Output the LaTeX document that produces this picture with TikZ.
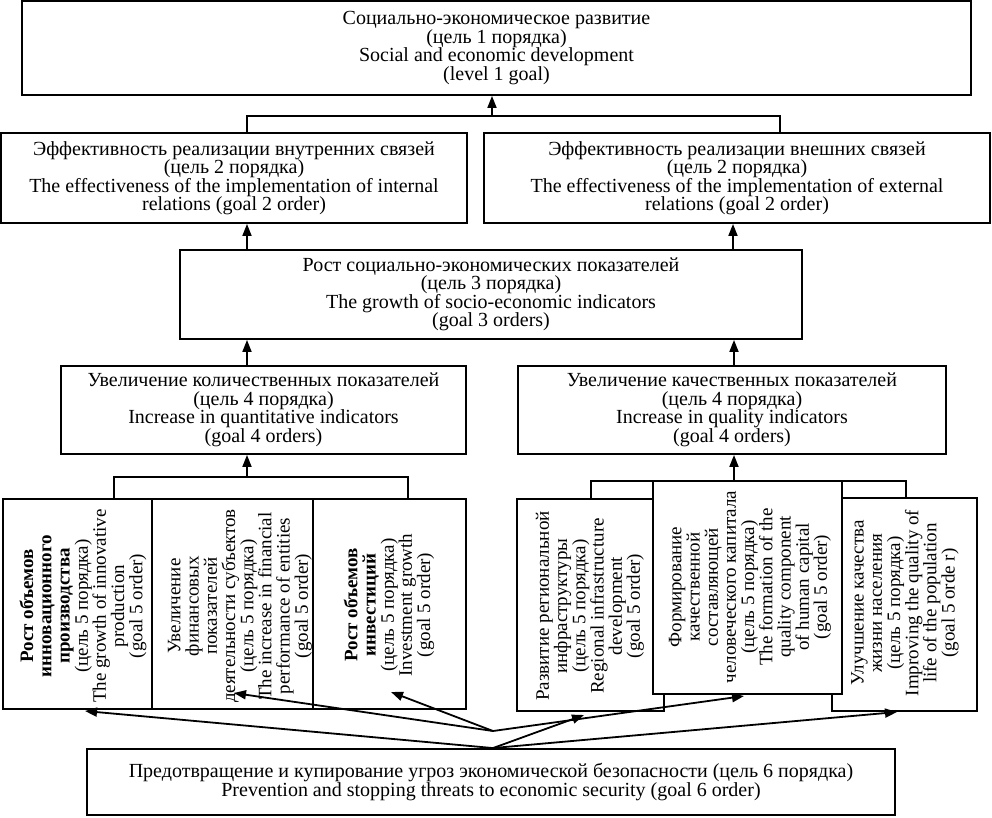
\documentclass[tikz,border=0pt]{standalone}
\usepackage{fontspec}
\setmainfont{Liberation Serif}
\usetikzlibrary{arrows.meta}
\begin{document}
\begin{tikzpicture}[x=1pt,y=-1pt,
  box/.style={draw, line width=1.9pt, fill=white, inner sep=1pt, align=center,
    font=\fontsize{20}{18.5}\selectfont},
  vframe/.style={draw, line width=1.9pt, fill=white, inner sep=0pt},
  vtext/.style={rotate=90, inner sep=0pt, align=center,
    font=\fontsize{19}{18.2}\selectfont},
  conn/.style={line width=1.8pt},
  arr/.style={conn, -{Triangle[length=12pt,width=9pt]}}]
\useasboundingbox (0,0) rectangle (992,817);
% level 1
\node[box, minimum width=949pt, minimum height=94pt] (top) at (496.5,48)
  {Социально-экономическое развитие\\(цель 1 порядка)\\Social and economic development\\(level 1 goal)};
% level 2
\node[box, minimum width=466pt, minimum height=90pt] (l2a) at (234,178)
  {Эффективность реализации внутренних связей\\(цель 2 порядка)\\The effectiveness of the implementation of internal\\relations (goal 2 order)};
\node[box, minimum width=506pt, minimum height=90pt] (l2b) at (737,178)
  {Эффективность реализации внешних связей\\(цель 2 порядка)\\The effectiveness of the implementation of external\\relations (goal 2 order)};
% level 3
\node[box, minimum width=622pt, minimum height=89pt] (l3) at (491,294.5)
  {Рост социально-экономических показателей\\(цель 3 порядка)\\The growth of socio-economic indicators\\(goal 3 orders)};
% level 4
\node[box, minimum width=405pt, minimum height=88pt] (l4a) at (263.5,410)
  {Увеличение количественных показателей\\(цель 4 порядка)\\Increase in quantitative indicators\\(goal 4 orders)};
\node[box, minimum width=428pt, minimum height=88pt] (l4b) at (732,410)
  {Увеличение качественных показателей\\(цель 4 порядка)\\Increase in quality indicators\\(goal 4 orders)};
% level 5 left group
\node[vframe, minimum width=149pt, minimum height=210pt] (b1) at (77.5,604) {};
\node[vtext] (b1t) at (83,606)
  {\textbf{Рост объемов}\\\textbf{инновационного}\\\textbf{производства}\\(цель 5 порядка)\\The growth of innovative\\production\\(goal 5 order)};
\node[vframe, minimum width=161pt, minimum height=210pt] (b2) at (232.5,604) {};
\node[vtext] (b2t) at (240,606)
  {Увеличение\\финансовых\\показателей\\деятельности субъектов\\(цель 5 порядка)\\The increase in financial\\performance of entities\\(goal 5 order)};
\node[vframe, minimum width=153pt, minimum height=210pt] (b3) at (389.5,604) {};
\node[vtext] (b3t) at (389,605)
  {\textbf{Рост объемов}\\\textbf{инвестиций}\\(цель 5 порядка)\\Investment growth\\(goal 5 order)};
% level 5 right group
\node[vframe, minimum width=147pt, minimum height=212pt] (ra) at (590.5,605) {};
\node[vtext] (rat) at (590,606)
  {Развитие региональной\\инфраструктуры\\(цель 5 порядка)\\Regional infrastructure\\development\\(goal 5 order)};
\node[vframe, minimum width=145pt, minimum height=213pt] (rc) at (904.5,604.5) {};
\node[vtext] (rct) at (905,603)
  {Улучшение качества\\жизни населения\\(цель 5 порядка)\\Improving the quality of\\life of the population\\(goal 5 orde r)};
% brackets and vertical arrows
\coordinate (j1) at (492,116);
\draw[conn] (247,0 |- l2a.north) -- (247,0 |- j1) -- (780,0 |- j1) -- (780,0 |- l2b.north);
\draw[arr] (j1) -- (j1 |- top.south);
\draw[arr] (247,0 |- l3.north) -- (247,0 |- l2a.south);
\draw[arr] (733,0 |- l3.north) -- (733,0 |- l2b.south);
\draw[arr] (247,0 |- l4a.north) -- (247,0 |- l3.south);
\draw[arr] (734,0 |- l4b.north) -- (734,0 |- l3.south);
\coordinate (j2) at (247,477);
\draw[conn] (114,0 |- b1.north) -- (114,0 |- j2) -- (408,0 |- j2) -- (408,0 |- b3.north);
\draw[arr] (j2) -- (j2 |- l4a.south);
\coordinate (j3) at (734,481);
\draw[conn] (591,0 |- ra.north) -- (591,0 |- j3) -- (906,0 |- j3) -- (906,0 |- rc.north);
\draw[arr] (j3) -- (j3 |- l4b.south);
\node[vframe, minimum width=189pt, minimum height=213pt] (rb) at (747.5,587.5) {};
\node[vtext] (rbt) at (750,587)
  {Формирование\\качественной\\составляющей\\человеческого капитала\\(цель 5 порядка)\\The formation of the\\quality component\\of human capital\\(goal 5 order)};
% level 6
\node[box, minimum width=808pt, minimum height=66pt] (bot) at (491,782)
  {Предотвращение и купирование угроз экономической безопасности (цель 6 порядка)\\Prevention and stopping threats to economic security (goal 6 order)};
% fan of arrows
\coordinate (u) at (493,731);
\coordinate (l) at (493,0 |- bot.north);
\coordinate (t1) at (85,711);
\coordinate (t2) at (234,693);
\coordinate (t3) at (391,692);
\coordinate (t4) at (584,715);
\coordinate (t5) at (744,696);
\coordinate (t6) at (897,712);
\draw[arr] (l) -- (t1);
\draw[arr] (u) -- (t2);
\draw[arr] (u) -- (t3);
\draw[arr] (l) -- (t4);
\draw[arr] (u) -- (t5);
\draw[arr] (l) -- (t6);
\end{tikzpicture}
\end{document}
